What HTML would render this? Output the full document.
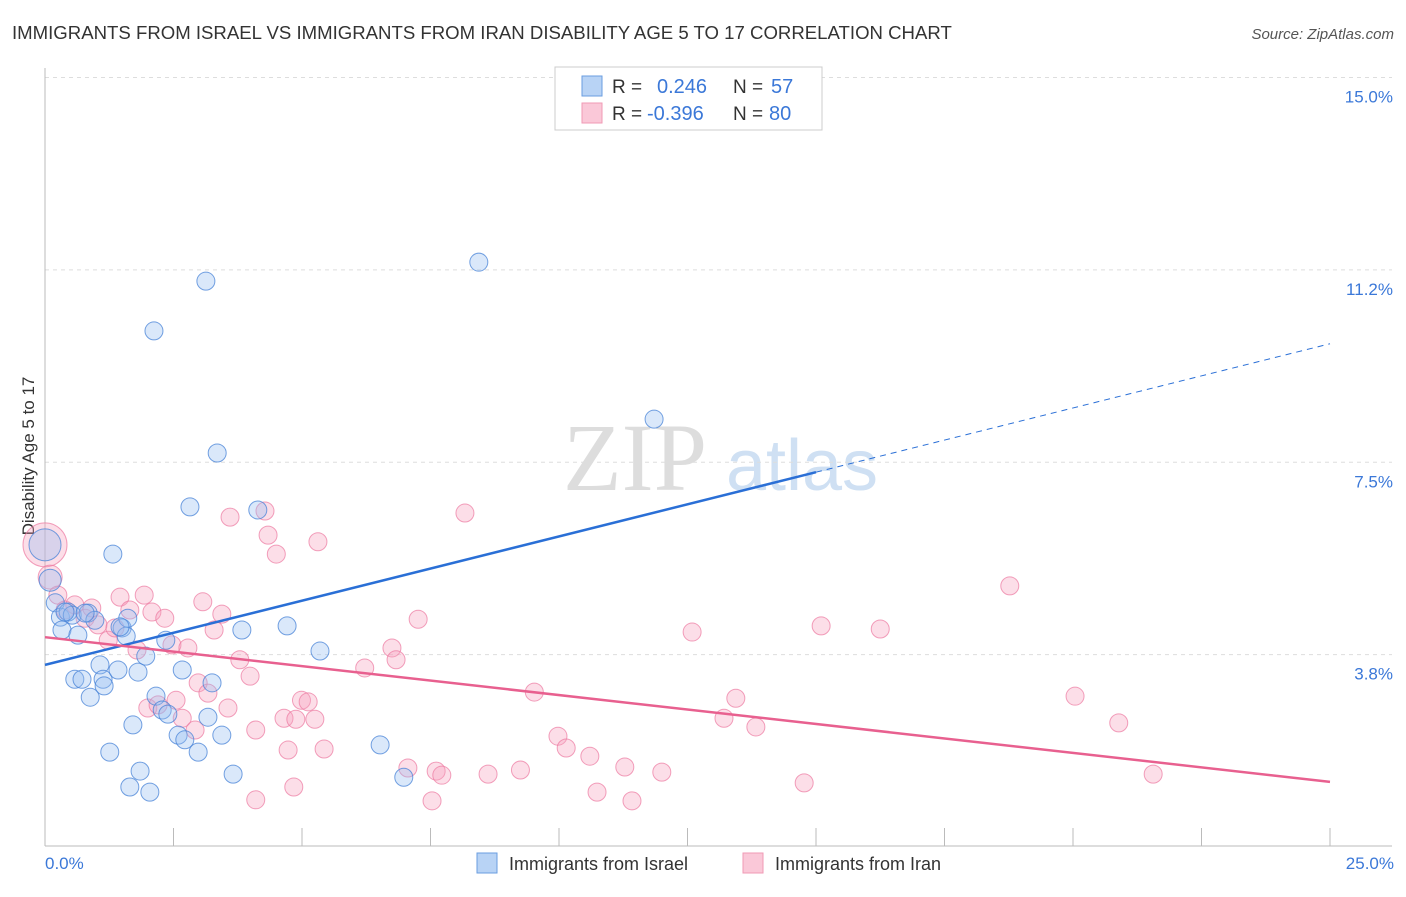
<!DOCTYPE html>
<html><head><meta charset="utf-8"><style>
body{margin:0;background:#fff;font-family:"Liberation Sans",sans-serif;}
</style></head><body>
<svg width="1406" height="892" xmlns="http://www.w3.org/2000/svg" id="svg">
<text x="12" y="39" font-size="18.6" fill="#333">IMMIGRANTS FROM ISRAEL VS IMMIGRANTS FROM IRAN DISABILITY AGE 5 TO 17 CORRELATION CHART</text>
<text x="1394" y="39" font-size="15" fill="#555" font-style="italic" text-anchor="end">Source: ZipAtlas.com</text>
<text x="635" y="490" font-size="96" fill="#ddd" font-family="Liberation Serif,serif" text-anchor="middle">ZIP</text>
<text x="802" y="490" font-size="72" fill="#cfe0f3" text-anchor="middle">atlas</text>
<g id="grid"></g>
<line x1="45" y1="68" x2="45" y2="846" stroke="#bbb"/>
<line x1="45" y1="846" x2="1392" y2="846" stroke="#bbb"/>
<text transform="translate(34,456) rotate(-90)" font-size="17" fill="#333" text-anchor="middle">Disability Age 5 to 17</text>
<text x="45" y="869" font-size="17" fill="#3b78d8">0.0%</text>
<text x="1394" y="869" font-size="17" fill="#3b78d8" text-anchor="end">25.0%</text>
<g id="pts"></g>
<g id="lines"></g>
<g>
<rect x="555" y="67" width="267" height="63" fill="#fff" stroke="#ccc"/>
<rect x="582" y="76" width="20" height="20" fill="#b8d3f5" stroke="#6a9ee0"/>
<rect x="582" y="103" width="20" height="20" fill="#fac8d8" stroke="#f09ab5"/>
<text x="612" y="93" font-size="19" fill="#333">R =</text>
<text x="657" y="93" font-size="20" fill="#3b78d8">0.246</text>
<text x="733" y="93" font-size="19" fill="#333">N =</text>
<text x="771" y="93" font-size="20" fill="#3b78d8">57</text>
<text x="612" y="120" font-size="19" fill="#333">R =</text>
<text x="647" y="120" font-size="20" fill="#3b78d8">-0.396</text>
<text x="733" y="120" font-size="19" fill="#333">N =</text>
<text x="769" y="120" font-size="20" fill="#3b78d8">80</text>
</g>
<g>
<rect x="477" y="853" width="20" height="20" fill="#b8d3f5" stroke="#6a9ee0"/>
<text x="509" y="870" font-size="18" fill="#333">Immigrants from Israel</text>
<rect x="743" y="853" width="20" height="20" fill="#fac8d8" stroke="#f09ab5"/>
<text x="775" y="870" font-size="18" fill="#333">Immigrants from Iran</text>
</g>
</svg>
<script>
const yTicks=[3.75,7.5,11.25,15];
const yTickLabels=["3.8%","7.5%","11.2%","15.0%"];
const xTicks=[0,2.5,5,7.5,10,12.5,15,17.5,20,22.5,25];
const israelX=[0,0.1,0.2,0.3,0.33,0.45,0.53,0.64,0.84,0.97,1.07,0.58,0.72,0.88,1.13,1.15,1.32,1.42,1.5,1.58,1.61,1.26,1.71,1.81,1.85,1.65,2.04,1.96,2.12,2.16,2.28,2.35,2.39,2.59,2.67,2.72,2.82,2.98,3.13,3.17,3.25,3.35,3.44,3.66,3.83,4.14,4.71,5.35,6.52,6.98,8.44,11.85,0.39,0.78,1.46];
const israelY=[5.89,5.2,4.76,4.48,4.23,4.58,4.52,4.13,4.56,4.42,3.55,3.27,3.27,2.92,3.27,3.14,5.71,3.45,4.27,4.11,4.46,1.85,2.38,3.41,1.48,1.17,1.07,3.72,10.06,2.94,2.67,4.03,2.59,2.18,3.45,2.09,6.63,1.85,11.03,2.53,3.2,7.68,2.18,1.42,4.23,6.57,4.31,3.82,1.99,1.36,11.4,8.34,4.58,4.56,4.29];
const iranX=[0,0.1,0.25,0.39,0.58,0.78,0.91,1.03,1.23,1.36,1.46,1.65,1.79,1.93,2.08,2.0,2.2,2.33,2.47,2.55,2.67,2.78,2.92,2.98,3.07,3.17,3.29,3.44,3.56,3.6,3.79,3.99,4.1,4.1,4.28,4.34,4.5,4.65,4.73,4.84,4.88,4.99,5.12,5.25,5.31,5.43,6.22,6.75,6.83,7.06,7.26,7.53,7.61,7.72,8.17,8.62,9.25,9.52,9.98,10.14,10.6,10.74,11.28,11.42,12.0,12.59,13.21,13.44,13.83,14.77,15.1,16.25,18.77,20.04,20.89,21.56];
const iranY=[5.89,5.26,4.91,4.62,4.72,4.46,4.66,4.33,4.03,4.27,4.87,4.62,3.84,4.91,4.58,2.71,2.77,4.46,3.94,2.86,2.51,3.88,2.28,3.2,4.78,3.0,4.23,4.54,2.71,6.43,3.65,3.33,2.28,0.92,6.55,6.08,5.71,2.51,1.89,1.17,2.49,2.86,2.83,2.49,5.95,1.91,3.49,3.88,3.65,1.54,4.44,0.9,1.48,1.4,6.51,1.42,1.5,3.02,2.16,1.93,1.77,1.07,1.56,0.9,1.46,4.19,2.51,2.9,2.34,1.25,4.31,4.25,5.09,2.94,2.42,1.42];
const israelTrend=[3.55,9.81];
const iranTrend=[4.09,1.27];
const NS="http://www.w3.org/2000/svg";
const X=v=>45+v*51.4, Y=v=>847-v*51.3;
function mk(t,a,p){const e=document.createElementNS(NS,t);for(const k in a)e.setAttribute(k,a[k]);document.getElementById(p).appendChild(e);return e;}
yTicks.forEach((v,i)=>{
 const l=mk('line',{x1:45,x2:1392,y1:Y(v),y2:Y(v),stroke:'#ddd','stroke-dasharray':'4,4'},'grid');
 
 
 const t=mk('text',{x:1393,y:Y(v)+25,'font-size':17,fill:'#3b78d8','text-anchor':'end'},'grid');
 t.textContent=yTickLabels[i];
 
 
});
xTicks.forEach(v=>{
 const l=mk('line',{x1:X(v),x2:X(v),y1:828,y2:846,stroke:'#bbb'},'grid');
 
 
});
iranX.forEach((x,i)=>{
 const c=mk('circle',{cx:X(x),cy:Y(iranY[i]),r:i<2?(i==0?22:12):9,fill:'rgba(246,160,190,0.35)',stroke:'rgba(236,120,160,0.7)','stroke-width':1},'pts');
 
 
});
israelX.forEach((x,i)=>{
 const c=mk('circle',{cx:X(x),cy:Y(israelY[i]),r:i==0?16:(i==1?11:9),fill:'rgba(150,190,240,0.35)',stroke:'rgba(70,130,215,0.75)','stroke-width':1},'pts');
 
 
});
const b0=israelTrend[0],b1=israelTrend[1],bm=b0+(b1-b0)*15/25;
let l=mk('line',{x1:X(0),y1:Y(b0),x2:X(15),y2:Y(bm),stroke:'#2a6fd6','stroke-width':2.5},'lines');


l=mk('line',{x1:X(15),y1:Y(bm),x2:X(25),y2:Y(b1),stroke:'#2a6fd6','stroke-width':1,'stroke-dasharray':'6,5'},'lines');


l=mk('line',{x1:X(0),y1:Y(iranTrend[0]),x2:X(25),y2:Y(iranTrend[1]),stroke:'#e8608f','stroke-width':2.5},'lines');


</script>
</body></html>
